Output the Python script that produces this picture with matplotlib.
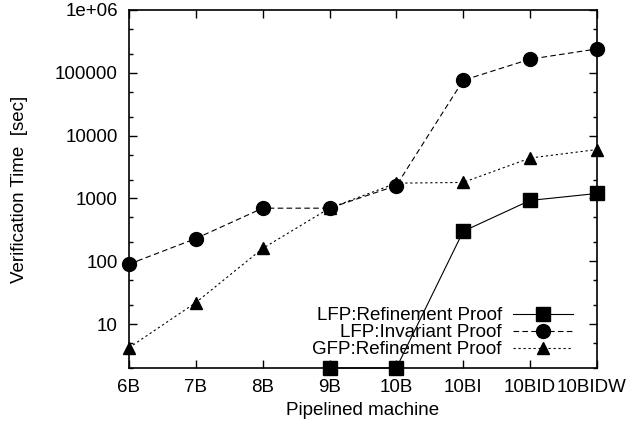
import numpy as np
import matplotlib
matplotlib.use("Agg")
import matplotlib.pyplot as plt
import matplotlib.transforms as mtransforms
from matplotlib.ticker import FixedLocator, LogLocator, NullFormatter

plt.rcParams['font.family'] = ['Liberation Sans', 'DejaVu Sans']

machines = ["6B", "7B", "8B", "9B", "10B", "10BI", "10BID", "10BIDW"]
lfp_refinement = [np.nan, np.nan, np.nan, 2, 2, 300, 930, 1200]
lfp_invariant = [90, 230, 700, 700, 1600, 76000, 165000, 240000]
gfp_refinement = [4.2, 22, 160, 700, 1750, 1800, 4400, 6000]
ytick_vals = [10, 100, 1000, 10000, 100000, 1000000]
ytick_labels = ["10", "100", "1000", "10000", "100000", "1e+06"]

fig = plt.figure(figsize=(6.27, 4.29), dpi=100)
ax = fig.add_axes([0.2057, 0.1422, 0.952 - 0.2057, 0.9767 - 0.1422])

x = np.arange(len(machines))
lw = 0.8
ax.plot(x, lfp_refinement, color='black', lw=lw, ls='-', marker='s', ms=10,
        label="LFP:Refinement Proof", clip_on=False, zorder=3)
ax.plot(x, lfp_invariant, color='black', lw=lw, ls=(0, (5, 3)), marker='o', ms=10,
        label="LFP:Invariant Proof", clip_on=False, zorder=3)
ax.plot(x, gfp_refinement, color='black', lw=lw, ls=(0, (2, 2.5)), marker='^', ms=9,
        label="GFP:Refinement Proof", clip_on=False, zorder=3)

ax.set_yscale('log')
ax.set_ylim(2, 1e6)
ax.set_xlim(0, len(machines) - 1)
ax.set_xticks(x)
ax.set_xticklabels(machines)
ax.yaxis.set_major_locator(FixedLocator(ytick_vals))
ax.set_yticklabels(ytick_labels)
ax.yaxis.set_minor_locator(LogLocator(base=10, subs=(2, 5)))
ax.yaxis.set_minor_formatter(NullFormatter())

ax.tick_params(axis='both', which='both', direction='in', top=True, right=True,
               labelsize=13.5, width=1, colors='black')
ax.tick_params(axis='both', which='major', length=6, pad=8)
ax.tick_params(axis='y', which='minor', length=3)
for s in ax.spines.values():
    s.set_linewidth(1.2)

# nudge the last x tick label slightly left so it stays inside the figure
last = ax.get_xticklabels()[-1]
last.set_transform(last.get_transform() + mtransforms.ScaledTranslation(-5 / 100, 0, fig.dpi_scale_trans))

ax.set_xlabel("Pipelined machine", fontsize=13.5, labelpad=4)
ax.set_ylabel("Verification Time  [sec]", fontsize=13.5)
ax.yaxis.set_label_coords(-0.216, 0.5)

leg = ax.legend(loc='lower right', frameon=False, markerfirst=False, fontsize=13.5,
                handlelength=3.2, labelspacing=0.0, handletextpad=0.6,
                borderaxespad=0.3, bbox_to_anchor=(0.977, -0.01))
for t in leg.get_texts():
    t.set_ha('right')

fig.savefig("out.png", dpi=100)
